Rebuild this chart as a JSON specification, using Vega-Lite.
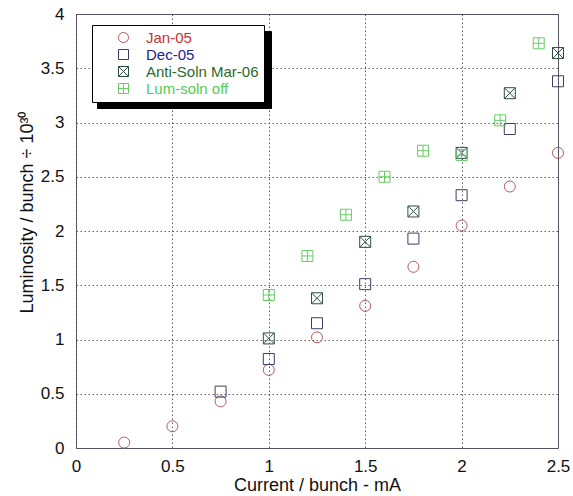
{
  "$schema": "https://vega.github.io/schema/vega-lite/v6.json",
  "width": 482,
  "height": 434,
  "autosize": {"type": "none"},
  "padding": {"left": 76, "top": 14, "right": 15, "bottom": 48},
  "background": "white",
  "datasets": {
    "lum": [
      {"current": 0.25, "lum": 0.05, "series": "Jan-05"},
      {"current": 0.5, "lum": 0.2, "series": "Jan-05"},
      {"current": 0.75, "lum": 0.43, "series": "Jan-05"},
      {"current": 1.0, "lum": 0.72, "series": "Jan-05"},
      {"current": 1.25, "lum": 1.02, "series": "Jan-05"},
      {"current": 1.5, "lum": 1.31, "series": "Jan-05"},
      {"current": 1.75, "lum": 1.67, "series": "Jan-05"},
      {"current": 2.0, "lum": 2.05, "series": "Jan-05"},
      {"current": 2.25, "lum": 2.41, "series": "Jan-05"},
      {"current": 2.5, "lum": 2.72, "series": "Jan-05"},
      {"current": 0.75, "lum": 0.52, "series": "Dec-05"},
      {"current": 1.0, "lum": 0.82, "series": "Dec-05"},
      {"current": 1.25, "lum": 1.15, "series": "Dec-05"},
      {"current": 1.5, "lum": 1.51, "series": "Dec-05"},
      {"current": 1.75, "lum": 1.93, "series": "Dec-05"},
      {"current": 2.0, "lum": 2.33, "series": "Dec-05"},
      {"current": 2.25, "lum": 2.94, "series": "Dec-05"},
      {"current": 2.5, "lum": 3.38, "series": "Dec-05"},
      {"current": 1.0, "lum": 1.01, "series": "Anti-Soln Mar-06"},
      {"current": 1.25, "lum": 1.38, "series": "Anti-Soln Mar-06"},
      {"current": 1.5, "lum": 1.9, "series": "Anti-Soln Mar-06"},
      {"current": 1.75, "lum": 2.18, "series": "Anti-Soln Mar-06"},
      {"current": 2.0, "lum": 2.72, "series": "Anti-Soln Mar-06"},
      {"current": 2.25, "lum": 3.27, "series": "Anti-Soln Mar-06"},
      {"current": 2.5, "lum": 3.64, "series": "Anti-Soln Mar-06"},
      {"current": 1.0, "lum": 1.41, "series": "Lum-soln off"},
      {"current": 1.2, "lum": 1.77, "series": "Lum-soln off"},
      {"current": 1.4, "lum": 2.15, "series": "Lum-soln off"},
      {"current": 1.6, "lum": 2.5, "series": "Lum-soln off"},
      {"current": 1.8, "lum": 2.74, "series": "Lum-soln off"},
      {"current": 2.0, "lum": 2.7, "series": "Lum-soln off"},
      {"current": 2.2, "lum": 3.02, "series": "Lum-soln off"},
      {"current": 2.4, "lum": 3.73, "series": "Lum-soln off"}
    ],
    "legendRows": [
      {"entry": "Jan-05"},
      {"entry": "Dec-05"},
      {"entry": "Anti-Soln Mar-06"},
      {"entry": "Lum-soln off"}
    ]
  },
  "config": {
    "font": "Liberation Sans",
    "view": {"stroke": "#5a5a6e", "strokeWidth": 1},
    "axis": {
      "domain": false,
      "ticks": false,
      "grid": true,
      "gridColor": "#444444",
      "gridDash": [1.5, 2.5],
      "gridOpacity": 0.85,
      "labelFont": "Liberation Sans",
      "labelFontSize": 17,
      "labelColor": "#111111",
      "labelFlush": false,
      "titleFont": "Liberation Sans",
      "titleFontSize": 18,
      "titleFontWeight": "normal",
      "titleColor": "#111111"
    },
    "legend": {
      "labelFont": "Liberation Sans",
      "labelFontSize": 15
    }
  },
  "layer": [
    {
      "data": {"name": "legendRows"},
      "mark": {"type": "point", "opacity": 0},
      "encoding": {
        "size": {
          "field": "entry",
          "type": "ordinal",
          "scale": {"range": [100, 100, 100, 100]},
          "legend": {
            "title": null,
            "orient": "none",
            "legendX": 21,
            "legendY": 17,
            "padding": 5,
            "rowPadding": 1,
            "symbolOffset": 19,
            "labelOffset": 130,
            "labelFontSize": 15,
            "labelExpr": "''",
            "labelOpacity": 0,
            "symbolOpacity": 0,
            "fillColor": "#000000",
            "strokeColor": "#000000"
          }
        }
      }
    },
    {
      "data": {"name": "lum"},
      "mark": {"type": "point", "filled": false, "size": 121, "strokeWidth": 1, "opacity": 1},
      "encoding": {
        "x": {
          "field": "current",
          "type": "quantitative",
          "scale": {"domain": [0, 2.5], "nice": false},
          "axis": {
            "values": [0, 0.5, 1, 1.5, 2, 2.5],
            "format": "~g",
            "title": "Current / bunch - mA",
            "labelPadding": 10,
            "titlePadding": 2
          }
        },
        "y": {
          "field": "lum",
          "type": "quantitative",
          "scale": {"domain": [0, 4], "nice": false},
          "axis": {
            "values": [0, 0.5, 1, 1.5, 2, 2.5, 3, 3.5, 4],
            "format": "~g",
            "title": "Luminosity / bunch ÷ 10³⁰",
            "labelPadding": 12,
            "titlePadding": 4,
            "titleY": 198
          }
        },
        "color": {
          "field": "series",
          "type": "nominal",
          "scale": {
            "domain": ["Jan-05", "Dec-05", "Anti-Soln Mar-06", "Lum-soln off"],
            "range": ["#b05a5a", "#3c3c64", "#2e4f42", "#66cc66"]
          },
          "legend": {
            "title": null,
            "orient": "none",
            "legendX": 16,
            "legendY": 11,
            "padding": 5,
            "rowPadding": 1,
            "symbolOffset": 19,
            "labelOffset": 15,
            "labelFontSize": 15,
            "symbolSize": 100,
            "symbolStrokeWidth": 1,
            "fillColor": "#ffffff",
            "strokeColor": "#000000",
            "labelColor": {"expr": "datum.value == 'Jan-05' ? '#c83232' : datum.value == 'Dec-05' ? '#23238c' : datum.value == 'Anti-Soln Mar-06' ? '#2a6a2a' : '#55cc55'"}
          }
        },
        "shape": {
          "field": "series",
          "type": "nominal",
          "scale": {
            "domain": ["Jan-05", "Dec-05", "Anti-Soln Mar-06", "Lum-soln off"],
            "range": ["circle", "square", "M-1,-1H1V1H-1Z M-1,-1L1,1 M1,-1L-1,1", "M-1,-1H1V1H-1Z M0,-1V1 M-1,0H1"]
          },
          "legend": {
            "title": null,
            "orient": "none",
            "legendX": 16,
            "legendY": 11,
            "padding": 5,
            "rowPadding": 1,
            "symbolOffset": 19,
            "labelOffset": 15,
            "labelFontSize": 15,
            "symbolSize": 100,
            "fillColor": "#ffffff",
            "strokeColor": "#000000",
            "labelColor": {"expr": "datum.value == 'Jan-05' ? '#c83232' : datum.value == 'Dec-05' ? '#23238c' : datum.value == 'Anti-Soln Mar-06' ? '#2a6a2a' : '#55cc55'"}
          }
        }
      }
    }
  ]
}
